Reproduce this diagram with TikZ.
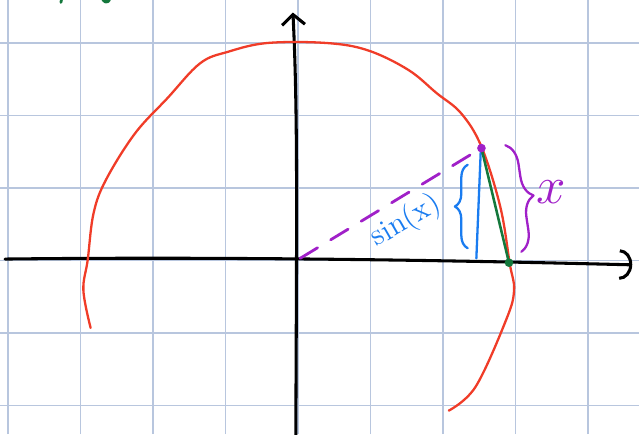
\documentclass[tikz,border=0pt]{standalone}
\usepackage{tikz}
\usetikzlibrary{arrows.meta,decorations.pathreplacing}
\definecolor{gridblue}{RGB}{184,198,222}
\definecolor{penred}{RGB}{240,60,40}
\definecolor{penblue}{RGB}{26,124,240}
\definecolor{penpurple}{RGB}{160,32,200}
\definecolor{pengreen}{RGB}{20,120,60}

\begin{document}
\begin{tikzpicture}[
    gridline/.style={gridblue, line width=0.5pt},
    axis/.style={line width=1.2pt, line cap=round, line join=round},
    pen/.style={line width=0.9pt, line cap=round, line join=round},
    lbl/.style={inner sep=0pt, font=\fontsize{12}{14}\selectfont}
]
    \useasboundingbox (-4.110,-2.393) rectangle (4.703,3.593);
    \draw[gridline] (-4.110,-2.393) grid (4.703,3.593);

    % axes
    \coordinate (xl) at (-4.04,0.02);
    \coordinate (xr) at (4.61,-0.06);
    \coordinate (yb) at (-0.03,-2.45);
    \coordinate (yt) at (-0.07,3.42);
    \draw[axis, -{Arc Barb[length=5pt,width=12pt]}] (xl) .. controls (-1.5,0.05) and (1.5,0.02) .. (xr);
    \draw[axis, -{Straight Barb[length=4pt,width=9pt]}] (yb) .. controls (-0.02,0.5) and (0.0,2.0) .. (yt);

    % circle
    \draw[pen, penred] plot[smooth, tension=0.6] coordinates {
        (-2.86,-0.93) (-2.96,-0.41) (-2.90,0.01) (-2.82,0.65) (-2.65,1.11)
        (-2.25,1.75) (-1.80,2.24) (-1.35,2.72) (-0.96,2.88) (-0.42,3.0)
        (0.39,3.0) (0.96,2.90) (1.52,2.63) (1.91,2.31) (2.25,2.03)
        (2.53,1.57) (2.79,0.74) (2.92,-0.04) (2.98,-0.41) (2.87,-0.82)
        (2.45,-1.74) (2.08,-2.07)};

    \coordinate (O) at (0.03,0.03);
    \coordinate (P) at (2.53,1.55);
    \coordinate (Q) at (2.91,-0.03);
    \coordinate (Pb) at (2.52,1.50);
    \coordinate (Pf) at (2.46,0.03);

    \draw[pen, penpurple, line width=1.1pt, dash pattern=on 8pt off 6pt] (O) -- (P);
    \draw[pen, penblue] (Pb) -- (Pf);
    \draw[pen, pengreen, line width=1pt] (P) -- (Q);
    \fill[penpurple] (P) circle (1.7pt);
    \fill[pengreen] (Q) circle (1.7pt);

    % braces
    \draw[pen, penblue, decorate, decoration={brace, amplitude=5pt}] (2.34,0.17) -- (2.34,1.32);
    \draw[pen, penpurple, decorate, decoration={brace, amplitude=8pt}] (2.86,1.59) -- (3.08,0.12);

    \node[lbl, penblue, rotate=30] (sinlab) at (1.49,0.54) {sin(x)};
    \node[lbl, penpurple, font=\fontsize{20}{22}\selectfont] (xlab) at (3.49,0.95) {$x$};

    % green marks cut off at the top
    \draw[pen, pengreen, line width=1.1pt] (-3.27,3.56) -- (-3.24,3.70);
    \draw[pen, pengreen, line width=1.4pt] (-2.69,3.60) .. controls (-2.64,3.54) and (-2.60,3.56) .. (-2.58,3.70);
\end{tikzpicture}
\end{document}
